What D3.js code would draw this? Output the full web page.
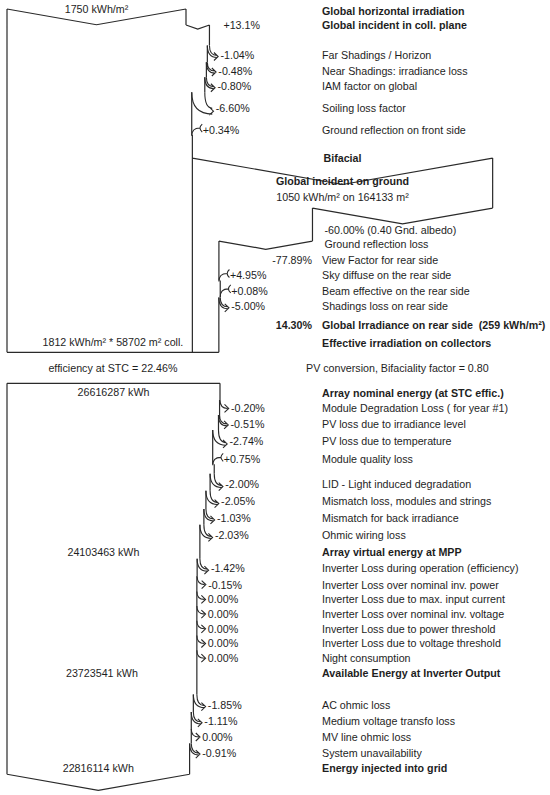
<!DOCTYPE html>
<html>
<head>
<meta charset="utf-8">
<script src="https://cdn.jsdelivr.net/npm/d3@7"></script>
<style>
body { margin: 0; background: #fff; }
svg text { font-family: "Liberation Sans", Arial, sans-serif; font-size: 10.7px; fill: #1e1e1e; white-space: pre; }
svg text.b { font-weight: bold; }
</style>
</head>
<body>
<svg id="chart" width="550" height="795"></svg>
<script>
// ---- values ----
const ghi = 1750;                 // kWh/m2
const transposition = 13.1;       // %
const frontLabels = ["", "Far Shadings / Horizon", "Near Shadings: irradiance loss", "IAM factor on global",
                     "Soiling loss factor", "Ground reflection on front side"];
const frontPct = [null, -1.04, -0.48, -0.80, -6.60, 0.34];

const groundIrr = 1050, groundArea = 164133, collArea = 58702;
const albedo = 0.40;
const groundLoss = -60.00;
const viewFactor = -77.89;
const rearLabels = ["Sky diffuse on the rear side", "Beam effective on the rear side", "Shadings loss on rear side"];
const rearPct = [4.95, 0.08, -5.00];
const rearShare = 14.30, rearIrr = 259, effIrr = 1812;

const stcEff = 22.46, bifaciality = 0.80;
const nominalEnergy = 26616287;
const arrayLabels = ["Module Degradation Loss ( for year #1)", "PV loss due to irradiance level", "PV loss due to temperature",
                     "Module quality loss", "", "LID - Light induced degradation", "Mismatch loss, modules and strings",
                     "Mismatch for back irradiance", "Ohmic wiring loss"];
const arrayPct = [-0.20, -0.51, -2.74, 0.75, null, -2.00, -2.05, -1.03, -2.03];
const virtualEnergy = 24103463;
const invLabels = ["Inverter Loss during operation (efficiency)", "Inverter Loss over nominal inv. power",
                   "Inverter Loss due to max. input current", "Inverter Loss over nominal inv. voltage",
                   "Inverter Loss due to power threshold", "Inverter Loss due to voltage threshold", "Night consumption"];
const invPct = [-1.42, -0.15, 0, 0, 0, 0, 0];
const availEnergy = 23723541;
const acLabels = ["", "AC ohmic loss", "Medium voltage transfo loss", "MV line ohmic loss", "System unavailability"];
const acPct = [null, -1.85, -1.11, 0, -0.91];
const gridEnergy = 22816114;

// ---- layout ----
const svg = d3.select("#chart");
const X0 = 7, LABEL_X = 322, PCT_END = 312;
const slope = 0.088;
const step = (a, b) => 14.7 + 0.55 * Math.max(a, b);
// plain hyphen minus like the report, not the unicode one d3.format gives
const sgn = (v, d) => (v > 0 ? "+" : v < 0 ? "-" : "") + Math.abs(v).toFixed(d);
const fmt = v => sgn(v, 2) + "%";

const outline = d3.path();
const arrows = d3.path();
const texts = [];
function txt(x, y, t, anchor, bold) { texts.push({x, y, t, anchor: anchor || "start", bold: !!bold}); }
function vline(x, y1, y2) { outline.moveTo(x, y1); outline.lineTo(x, y2); }
function vee(x1, x2, y, depth) { outline.moveTo(x1, y); outline.lineTo((x1 + x2) / 2, y + depth); outline.lineTo(x2, y); }

function lossArrow(edge, nx, yc) {
  const xb = edge.x, w = xb - nx;
  const tipX = xb + 7.5, tipY = yc + 2 + w * 0.3;
  const y0 = tipY - (10 + w * 0.9);
  vline(xb, edge.y, y0);
  const iy = tipY - Math.max(w * 0.45, 2);
  arrows.moveTo(xb, y0); arrows.quadraticCurveTo(xb, iy, tipX, iy);
  if (w >= 0.9) { arrows.moveTo(nx, y0); arrows.quadraticCurveTo(nx, tipY, tipX, tipY); }
  const hy = w >= 0.9 ? (tipY + iy) / 2 : iy;
  arrows.moveTo(tipX - 3, hy - 4); arrows.lineTo(tipX + 1.2, hy); arrows.lineTo(tipX - 3, hy + 4);
  edge.x = nx; edge.y = y0;
}
function gainArrow(edge, nx, yc) {
  const xb = edge.x, yj = yc + 5;
  vline(xb, edge.y, yj);
  arrows.moveTo(xb + 8, yc - 2); arrows.quadraticCurveTo(xb, yc - 2, xb, yj + 1);
  arrows.moveTo(xb + 10.5, yc - 6); arrows.quadraticCurveTo(xb + 6, yc - 2, xb + 10.5, yc + 2);
  edge.x = nx; edge.y = yj;
}
function rows(labels, pcts, edge, left, st, blank) {
  labels.forEach((lab, i) => {
    if (lab === "") { st.y += blank; return; }
    const v = pcts[i];
    const xb = edge.x;
    const nx = left + (xb - left) * (1 + v / 100);
    const px = Math.abs(nx - xb);
    st.y += step(st.prev, px); st.prev = px;
    if (v > 0) gainArrow(edge, nx, st.y); else lossArrow(edge, nx, st.y);
    txt(xb + 11, st.y, fmt(v));
    txt(LABEL_X, st.y, lab);
  });
}

// ---- irradiance part ----
const xIrr = d3.scaleLinear().domain([0, ghi]).range([X0, 186]);
const yTop = 9;
const xG = xIrr(ghi);
vee(X0, xG, yTop, (xG - X0) * slope);
txt((X0 + xG) / 2, yTop, `${ghi} kWh/m²`, "middle");
txt(LABEL_X, yTop + 2, "Global horizontal irradiation", "start", true);
const st = {y: yTop + 16, prev: 0};
const xT = xIrr(ghi * (1 + transposition / 100));
vline(xG, yTop, st.y);
vee(xG, xT, st.y, 4);
txt(LABEL_X, st.y, "Global incident in coll. plane", "start", true);
txt(xT + 14, st.y, sgn(transposition, 1) + "%");
const front = {x: xT, y: st.y};
rows(frontLabels, frontPct, front, X0, st, 14);

// bifacial branch
const yB = st.y + 28;
const bL = front.x;
const bifW = xIrr(groundIrr * groundArea / collArea) - X0;
const bR = bL + bifW;
vee(bL, bR, yB, bifW * slope);
txt((bL + bR) / 2, yB, "Bifacial", "middle", true);
txt((bL + bR) / 2, yB + 23, "Global incident on ground", "middle", true);
txt((bL + bR) / 2, yB + 39, `${groundIrr} kWh/m² on ${groundArea} m²`, "middle");
const yL = yB + 50;
vline(bR, yB, yL);
const gX = bL + bifW * (1 + groundLoss / 100);
vee(gX, bR, yL, (bR - gX) * slope);
txt(gX + 12, yL + 22, `${sgn(groundLoss, 2)}% (${albedo.toFixed(2)} Gnd. albedo)`);
txt(gX + 12, yL + 36, "Ground reflection loss");
const yV = yL + 33;
vline(gX, yL, yV);
const rX = bL + (gX - bL) * (1 + viewFactor / 100);
vee(rX, gX, yV, (gX - rX) * slope);
const rs = {y: yV + 19, prev: 0};
txt(PCT_END, rs.y, sgn(viewFactor, 2) + "%", "end");
txt(LABEL_X, rs.y, "View Factor for rear side");
const rear = {x: rX, y: yV};
rows(rearLabels, rearPct, rear, bL, rs, 0);
rs.y += 19;
txt(PCT_END, rs.y, rearShare.toFixed(2) + "%", "end", true);
txt(LABEL_X, rs.y, `Global Irradiance on rear side  (${rearIrr} kWh/m²)`, "start", true);
rs.y += 18;
txt(LABEL_X, rs.y, "Effective irradiation on collectors", "start", true);
txt((X0 + rear.x) / 2, rs.y - 1, `${effIrr} kWh/m² * ${collArea} m² coll.`, "middle");
const yBot = rs.y + 9;
vline(rear.x, rear.y, yBot);
vline(front.x, front.y, yBot);
vline(X0, yTop, yBot);
outline.moveTo(X0, yBot); outline.lineTo(rear.x, yBot);

// ---- energy part ----
const yS = yBot + 16;
txt((X0 + rear.x) / 2, yS, `efficiency at STC = ${stcEff}%`, "middle");
txt(306, yS, `PV conversion, Bifaciality factor = ${bifaciality.toFixed(2)}`);
const xE = d3.scaleLinear().domain([0, nominalEnergy]).range([X0, 220]);
const yT2 = yS + 15;
outline.moveTo(X0, yT2); outline.lineTo(xE(nominalEnergy), yT2);
const es = {y: yT2 + 10, prev: 0};
txt(LABEL_X, es.y, "Array nominal energy (at STC effic.)", "start", true);
txt((X0 + xE(nominalEnergy)) / 2, es.y - 1, `${nominalEnergy} kWh`, "middle");
const edge = {x: xE(nominalEnergy), y: yT2};
function title(label, value) {
  es.y += step(es.prev, 0); es.prev = 0;
  txt(LABEL_X, es.y, label, "start", true);
  txt((X0 + edge.x) / 2, es.y, `${value} kWh`, "middle");
}
rows(arrayLabels, arrayPct, edge, X0, es, 8);
title("Array virtual energy at MPP", virtualEnergy);
rows(invLabels, invPct, edge, X0, es, 0);
title("Available Energy at Inverter Output", availEnergy);
rows(acLabels, acPct, edge, X0, es, 15);
title("Energy injected into grid", gridEnergy);
const yBot2 = es.y + 6;
vline(edge.x, edge.y, yBot2);
vline(X0, yT2, yBot2);
vee(X0, edge.x, yBot2, (edge.x - X0) * slope);

// ---- draw ----
svg.append("path").attr("d", outline.toString())
  .attr("fill", "none").attr("stroke", "#2a2a2a").attr("stroke-width", 1.2);
svg.append("path").attr("d", arrows.toString())
  .attr("fill", "none").attr("stroke", "#2a2a2a").attr("stroke-width", 1.1);
svg.selectAll("text.lbl").data(texts).join("text")
  .attr("class", d => d.bold ? "b" : null)
  .attr("x", d => d.x).attr("y", d => d.y + 4)
  .attr("text-anchor", d => d.anchor)
  .text(d => d.t);
</script>
</body>
</html>
